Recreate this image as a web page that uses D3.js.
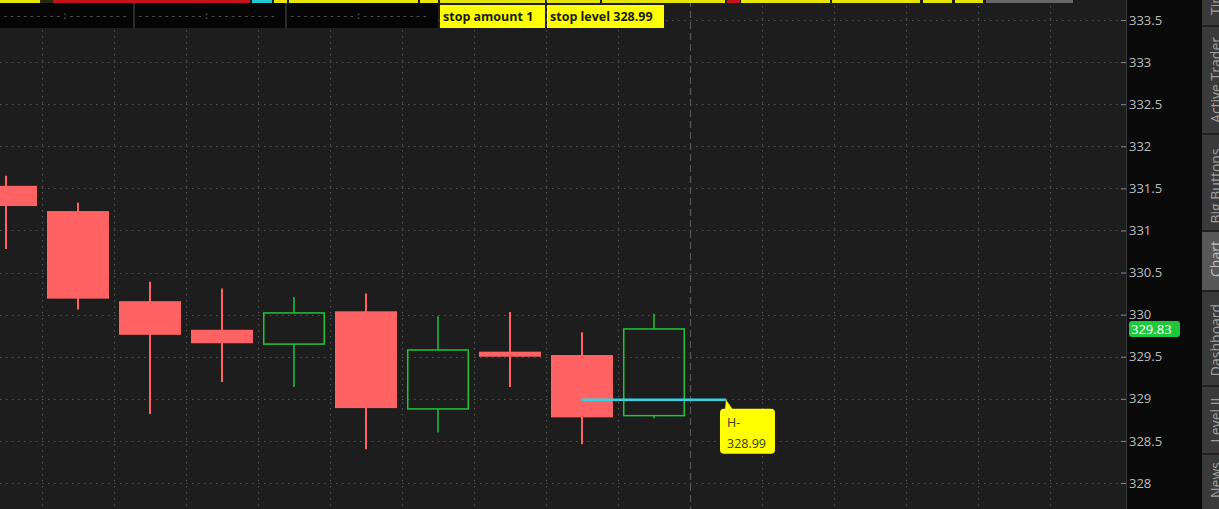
<!DOCTYPE html>
<html><head><meta charset="utf-8">
<script src="https://cdn.jsdelivr.net/npm/d3@7"></script>
<style>html,body{margin:0;padding:0;background:#1d1d1d;overflow:hidden;} svg{display:block}</style>
</head><body><svg id="c" width="1219" height="509"></svg>
<script>
// ---- data ----
const categories = ["1","2","3","4","5","6","7","8","9","10"];
const openVals  = [331.53, 331.23, 330.16, 329.82, 329.65, 330.04, 328.88, 329.56, 329.52, 328.80];
const highVals  = [331.65, 331.33, 330.39, 330.31, 330.21, 330.25, 329.98, 330.03, 329.79, 330.01];
const lowVals   = [330.78, 330.06, 328.82, 329.20, 329.14, 328.40, 328.60, 329.14, 328.46, 328.77];
const closeVals = [331.29, 330.19, 329.76, 329.66, 330.02, 328.89, 329.58, 329.50, 328.78, 329.83];
const tickValues = [328, 328.5, 329, 329.5, 330, 330.5, 331, 331.5, 332, 332.5, 333, 333.5];
const lastPrice = 329.83;
const stopLevel = 328.99;
const stopAmount = 1;
const studyLabels = ["stop amount " + stopAmount, "stop level " + stopLevel.toFixed(2)];
const sideTabs = ["Time & Sales", "Active Trader", "Big Buttons", "Chart", "Dashboard", "Level II", "News"];

// ---- layout ----
const W = 1219, H = 509;
const axisX = 1126;
const svg = d3.select("#c");
svg.append("rect").attr("width", W).attr("height", H).attr("fill", "#1d1d1d");

const x = d3.scaleLinear().domain([0, categories.length - 1]).range([6, 654]);
const y = d3.scaleLinear().domain([328, 333.5]).range([483, 20]);
const bodyW = 62;

// grid
const g = svg.append("g");
const hTicks = d3.range(327.5, 334.01, 0.5);
g.selectAll("line.h").data(hTicks).join("line")
  .attr("x1", 0).attr("x2", axisX - 6)
  .attr("y1", d => Math.round(y(d)) + 0.5).attr("y2", d => Math.round(y(d)) + 0.5)
  .attr("stroke", "#555").attr("stroke-width", 1.2).attr("stroke-dasharray", "1.5,4.5");
const vIdx = d3.range(-1, 15).map(i => i + 0.5).filter(i => x(i) > 0 && x(i) < axisX - 4);
g.selectAll("line.v").data(vIdx.filter(i => i !== 9.5)).join("line")
  .attr("x1", d => Math.round(x(d)) + 0.5).attr("x2", d => Math.round(x(d)) + 0.5)
  .attr("y1", 0).attr("y2", H)
  .attr("stroke", "#555").attr("stroke-width", 1.2).attr("stroke-dasharray", "1.5,4.5");
g.append("line")
  .attr("x1", Math.round(x(9.5)) + 0.5).attr("x2", Math.round(x(9.5)) + 0.5)
  .attr("y1", 0).attr("y2", H)
  .attr("stroke", "#585858").attr("stroke-width", 1.2).attr("stroke-dasharray", "7,4");

// candles
const data = categories.map((c, i) => ({i, o: openVals[i], h: highVals[i], l: lowVals[i], c: closeVals[i]}));
const RED = "#ff6262", GREEN = "#22c23c";
const cg = svg.append("g");
data.forEach(d => {
  const up = d.c >= d.o;
  const cx = x(d.i);
  const top = Math.max(d.o, d.c), bot = Math.min(d.o, d.c);
  if (up) {
    cg.append("line").attr("x1", cx).attr("x2", cx).attr("y1", y(d.h)).attr("y2", y(top))
      .attr("stroke", GREEN).attr("stroke-width", 1.5);
    cg.append("line").attr("x1", cx).attr("x2", cx).attr("y1", y(bot)).attr("y2", y(d.l))
      .attr("stroke", GREEN).attr("stroke-width", 1.5);
    cg.append("rect").attr("x", cx - bodyW / 2 + 0.75).attr("y", y(top))
      .attr("width", bodyW - 1.5).attr("height", Math.max(1, y(bot) - y(top)))
      .attr("fill", "none").attr("stroke", GREEN).attr("stroke-width", 1.5);
  } else {
    cg.append("line").attr("x1", cx).attr("x2", cx).attr("y1", y(d.h)).attr("y2", y(d.l))
      .attr("stroke", RED).attr("stroke-width", 2);
    cg.append("rect").attr("x", cx - bodyW / 2).attr("y", y(top))
      .attr("width", bodyW).attr("height", Math.max(2, y(bot) - y(top)))
      .attr("fill", RED);
  }
});

// stop level line + bubble
const sy = y(stopLevel);
svg.append("line").attr("x1", x(8)).attr("x2", x(10)).attr("y1", sy).attr("y2", sy)
  .attr("stroke", "#33d3e3").attr("stroke-width", 2.5);
svg.append("path")
  .attr("d", `M${x(10)},${sy} L${x(10) + 7},${sy + 10} L${x(10) - 1},${sy + 10} Z`)
  .attr("fill", "#ffff00");
svg.append("rect").attr("x", x(10) - 6).attr("y", sy + 9).attr("width", 55).attr("height", 45)
  .attr("rx", 4).attr("fill", "#ffff00");
svg.append("text").attr("x", x(10) + 1).attr("y", sy + 27).text("H-")
  .attr("font-family", "Open Sans").attr("font-size", 12.5).attr("fill", "#3a3a1a");
svg.append("text").attr("x", x(10) + 1).attr("y", sy + 48).text(stopLevel.toFixed(2))
  .attr("font-family", "Open Sans").attr("font-size", 12.5).attr("fill", "#3a3a1a");

// top header strip
const strip = [[0,40,"#e5e500"],[40,53,"#2a2a10"],[53,250,"#c4121c"],[252,272,"#20c8d0"],[274,287,"#e5e500"],
  [289,418,"#e5e500"],[420,438,"#e5e500"],[440,545,"#e5e500"],[547,600,"#e5e500"],[602,725,"#e5e500"],[727,740,"#c4121c"],
  [741,830,"#e5e500"],[832,920,"#e5e500"],[923,952,"#e5e500"],[955,983,"#e5e500"],[986,1073,"#666"]];
svg.append("g").selectAll("rect").data(strip).join("rect")
  .attr("x", d => d[0]).attr("y", 0).attr("width", d => d[1] - d[0]).attr("height", 3).attr("fill", d => d[2]);
const boxes = [[0,133],[135,285],[287,438]];
svg.append("g").selectAll("rect").data(boxes).join("rect")
  .attr("x", d => d[0]).attr("y", 3).attr("width", d => d[1] - d[0]).attr("height", 25).attr("fill", "#050505");
svg.append("g").selectAll("rect.sep").data(boxes.slice(1)).join("rect")
  .attr("x", d => d[0] - 2).attr("y", 3).attr("width", 2).attr("height", 25).attr("fill", "#2a2a2a");
svg.append("g").selectAll("text").data(boxes).join("text")
  .attr("x", d => d[0] + 2).attr("y", 19)
  .attr("font-family", "DejaVu Sans Mono").attr("font-size", 11).attr("fill", "#555")
  .text(d => d[0] === 0 ? "---------:---------" : "----------:----------");
// study labels
const lab = [[440,545],[547,664]];
studyLabels.forEach((t, i) => {
  svg.append("rect").attr("x", lab[i][0]).attr("y", 5).attr("width", lab[i][1] - lab[i][0]).attr("height", 23).attr("fill", "#ffff00");
  svg.append("text").attr("x", lab[i][0] + 3).attr("y", 21).text(t)
    .attr("font-family", "Open Sans").attr("font-weight", "bold").attr("font-size", 12.5).attr("fill", "#1a1a00");
});

// right axis
svg.append("rect").attr("x", axisX).attr("y", 0).attr("width", 1202 - axisX).attr("height", H).attr("fill", "#0a0a0a");
const ax = svg.append("g").attr("transform", `translate(${axisX},0)`)
  .call(d3.axisRight(y).tickValues(tickValues).tickSize(-5).tickPadding(3).tickFormat(d => String(d)));
ax.select(".domain").attr("stroke", "#3a3a3a").attr("d", `M0.5,0V${H}`);
ax.selectAll(".tick line").attr("stroke", "#888");
ax.selectAll(".tick text").attr("fill", "#bcbcbc").attr("font-family", "Open Sans").attr("font-size", 13);

// last price bubble
const ly = y(lastPrice);
svg.append("rect").attr("x", axisX + 3).attr("y", ly - 8).attr("width", 51).attr("height", 16).attr("rx", 3).attr("fill", "#1ec83c");
svg.append("text").attr("x", axisX + 5).attr("y", ly + 5).text(lastPrice.toFixed(2))
  .attr("font-family", "Open Sans").attr("font-size", 13).attr("fill", "#ffffff");

// side tabs
const tabPos = [[-90,25],[27,133],[135,230],[232,290],[292,385],[387,453],[455,520]];
const tabText = [15, 80, 186, 259, 340, 420, 498];
svg.append("rect").attr("x", 1202).attr("y", 0).attr("width", 17).attr("height", H).attr("fill", "#202020");
sideTabs.forEach((t, i) => {
  const [a, b] = tabPos[i];
  svg.append("rect").attr("x", 1202).attr("y", a).attr("width", 17).attr("height", b - a)
    .attr("fill", t === "Chart" ? "#585858" : "#3a3a3a");
  svg.append("text")
    .attr("transform", `translate(1221,${tabText[i]}) rotate(-90)`)
    .attr("text-anchor", i === 0 || i === 6 ? "start" : "middle")
    .attr("font-family", "Open Sans").attr("font-size", 14)
    .attr("fill", t === "Chart" ? "#bdbdbd" : "#a0a0a0").text(t);
});
</script></body></html>
